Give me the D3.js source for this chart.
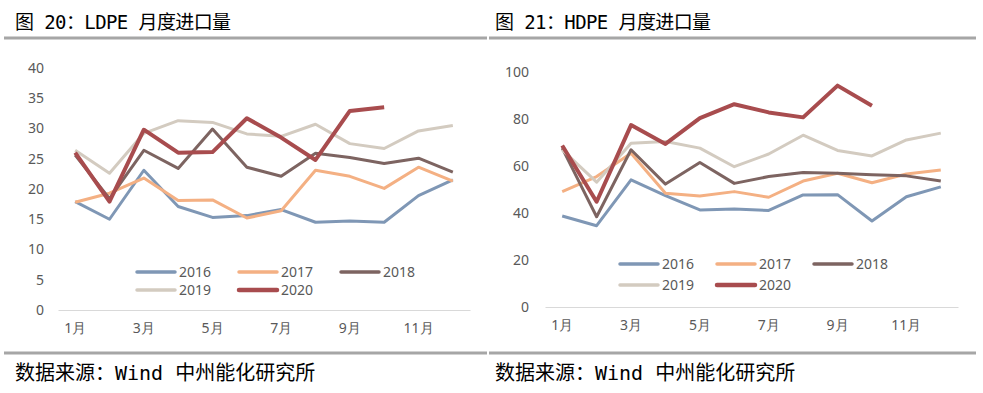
<!DOCTYPE html>
<html>
<head>
<meta charset="utf-8">
<script src="https://cdn.jsdelivr.net/npm/d3@7"></script>
<style>
  body { margin: 0; background: #fff; }
  .cap { font-family: "DejaVu Sans Mono", "Noto Sans CJK SC", monospace; fill: #000; }
  .tick text { font-family: "Noto Sans", "Open Sans", sans-serif; }
</style>
</head>
<body>
<div id="chart"></div>
<script>
// ---------------- data ----------------
var months = ["1月", "2月", "3月", "4月", "5月", "6月", "7月", "8月", "9月", "10月", "11月", "12月"];
var monthTicks = ["1月", "3月", "5月", "7月", "9月", "11月"];
var years = ["2016", "2017", "2018", "2019", "2020"];
var colors = ["#7f97b5", "#f4b083", "#7d6461", "#d3cbc0", "#a84c4e"];

// LDPE (万吨)
var ldpe2016 = [17.9, 15.0, 23.1, 17.1, 15.3, 15.6, 16.6, 14.5, 14.7, 14.5, 18.9, 21.5];
var ldpe2017 = [17.8, 19.3, 21.8, 18.1, 18.2, 15.2, 16.4, 23.1, 22.1, 20.1, 23.6, 21.3];
var ldpe2018 = [25.6, 18.4, 26.4, 23.4, 29.9, 23.6, 22.1, 25.9, 25.2, 24.2, 25.1, 22.8];
var ldpe2019 = [26.4, 22.6, 29.2, 31.3, 31.0, 29.1, 28.7, 30.7, 27.5, 26.7, 29.6, 30.5];
var ldpe2020 = [26.0, 17.9, 29.8, 26.0, 26.1, 31.7, 28.5, 24.8, 32.9, 33.5];
var ldpeTicks = [0, 5, 10, 15, 20, 25, 30, 35, 40];

// HDPE (万吨)
var hdpe2016 = [38.7, 34.6, 54.1, 47.4, 41.3, 41.7, 41.1, 47.7, 47.8, 36.6, 46.9, 51.1];
var hdpe2017 = [49.1, 55.5, 65.4, 48.4, 47.2, 49.1, 46.7, 53.6, 56.9, 52.9, 56.6, 58.3];
var hdpe2018 = [67.6, 38.4, 66.9, 52.3, 61.5, 52.6, 55.5, 57.2, 56.9, 56.3, 55.8, 53.6];
var hdpe2019 = [66.9, 53.1, 69.7, 70.4, 67.6, 59.7, 65.1, 73.1, 66.6, 64.3, 71.1, 74.0];
var hdpe2020 = [68.7, 44.8, 77.4, 69.4, 80.4, 86.3, 82.8, 80.7, 94.2, 85.6];
var hdpeTicks = [0, 20, 40, 60, 80, 100];

// ---------------- canvas ----------------
var svg = d3.select("#chart").append("svg")
  .attr("width", 983)
  .attr("height", 393);

// header / footer rules
[[4, 487], [489, 976]].forEach(function(r) {
  svg.append("line").attr("x1", r[0]).attr("x2", r[1]).attr("y1", 38).attr("y2", 38)
    .attr("stroke", "#a6a6a6").attr("stroke-width", 3);
  svg.append("line").attr("x1", r[0]).attr("x2", r[1]).attr("y1", 353).attr("y2", 353)
    .attr("stroke", "#a6a6a6").attr("stroke-width", 3);
});

function panel(opts) {
  var g = svg.append("g");

  g.append("text").attr("class", "cap")
    .attr("x", opts.titleX).attr("y", 29)
    .style("font-size", "19px")
    .style("letter-spacing", "-0.6px")
    .text(opts.title);

  g.append("text").attr("class", "cap")
    .attr("x", opts.titleX).attr("y", 380)
    .style("font-size", "20px")
    .text("数据来源：Wind 中州能化研究所");

  var x = d3.scaleBand().domain(months).range([opts.x0, opts.x1]);
  var y = d3.scaleLinear().domain([0, d3.max(opts.ticks)]).range([opts.yBottom, opts.yTop]);

  // y axis (labels only)
  var yAxis = g.append("g")
    .attr("transform", "translate(" + opts.yLabelX + ",0)")
    .call(d3.axisLeft(y).tickValues(opts.ticks).tickSize(0).tickPadding(0));
  yAxis.select(".domain").remove();
  yAxis.selectAll("text").attr("fill", "#595959").style("font-size", "14px");

  // x axis
  var xAxis = g.append("g")
    .attr("transform", "translate(0," + opts.yBottom + ")")
    .call(d3.axisBottom(x).tickValues(monthTicks).tickSize(0).tickPadding(13));
  xAxis.select(".domain").attr("stroke", "#d9d9d9").attr("stroke-width", 1);
  xAxis.selectAll("text").attr("fill", "#595959").style("font-size", "14px");

  var line = d3.line()
    .x(function(d, i) { return x(months[i]) + x.bandwidth() / 2; })
    .y(function(d) { return y(d); });

  opts.series.forEach(function(s, i) {
    g.append("path")
      .datum(s)
      .attr("d", line)
      .attr("fill", "none")
      .attr("stroke", colors[i])
      .attr("stroke-width", i === 4 ? 4 : 3)
      .attr("stroke-linejoin", "round");
  });

  // legend
  var lg = g.append("g");
  years.forEach(function(yr, i) {
    var col = i % 3, row = Math.floor(i / 3);
    var lx = opts.legX + col * opts.legStep, ly = opts.legY + row * opts.legRow;
    lg.append("line")
      .attr("x1", lx).attr("x2", lx + 38).attr("y1", ly).attr("y2", ly)
      .attr("stroke", colors[i]).attr("stroke-width", i === 4 ? 4.5 : 3.5)
      .attr("stroke-linecap", "round");
    lg.append("text")
      .attr("x", lx + 42).attr("y", ly + 5)
      .attr("fill", "#595959")
      .style("font-family", "'Noto Sans', 'Open Sans', sans-serif")
      .style("font-size", "14px")
      .text(yr);
  });
}

panel({
  title: "图 20：LDPE 月度进口量", titleX: 15,
  x0: 58, x1: 470, yTop: 68, yBottom: 310, yLabelX: 44,
  ticks: ldpeTicks,
  series: [ldpe2016, ldpe2017, ldpe2018, ldpe2019, ldpe2020],
  legX: 137, legY: 272, legStep: 102, legRow: 18
});

panel({
  title: "图 21：HDPE 月度进口量", titleX: 495,
  x0: 545, x1: 958, yTop: 72, yBottom: 307, yLabelX: 529,
  ticks: hdpeTicks,
  series: [hdpe2016, hdpe2017, hdpe2018, hdpe2019, hdpe2020],
  legX: 620, legY: 264, legStep: 97, legRow: 21
});
</script>
</body>
</html>
